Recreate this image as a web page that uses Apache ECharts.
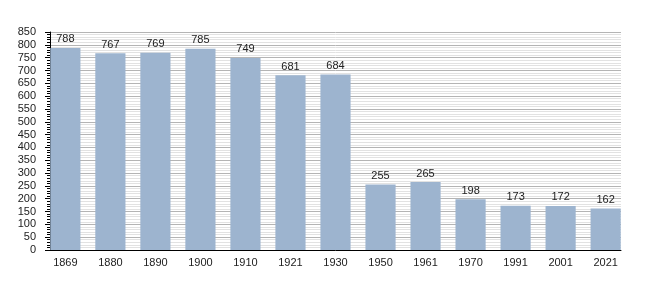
<!DOCTYPE html>
<html>
<head>
<meta charset="utf-8">
<script src="https://cdn.jsdelivr.net/npm/echarts@6/dist/echarts.min.js"></script>
<style>html,body{margin:0;padding:0;background:#fff}#c{width:650px;height:300px}</style>
</head>
<body>
<div id="c"></div>
<script>
const years = ['1869','1880','1890','1900','1910','1921','1930','1950','1961','1970','1991','2001','2021'];
const population = [788,767,769,785,749,681,684,255,265,198,173,172,162];
const yMin = 0, yMax = 850, yStep = 50;

const chart = echarts.init(document.getElementById('c'), null, {renderer:'canvas'});
const font = 'Liberation Sans, Arial, sans-serif';
chart.setOption({
  animation:false,
  grid:[
    {left:50, right:29, top:32, bottom:50},
    {left:42.85, right:21.85, top:32, bottom:50}
  ],
  xAxis:[
    {type:'value', gridIndex:0, min:0, max:1, show:true,
      axisLine:{show:true, onZero:false, lineStyle:{color:'#000', width:1}},
      axisTick:{show:false}, axisLabel:{show:false}, splitLine:{show:false}},
    {type:'category', gridIndex:1, data:years,
      axisLine:{show:false}, axisTick:{show:false},
      axisLabel:{color:'#222', fontSize:11, fontFamily:font, margin:7}}
  ],
  yAxis:[
    {type:'value', gridIndex:0, min:yMin, max:yMax, interval:yStep,
      axisLine:{show:true, lineStyle:{color:'#000'}},
      axisTick:{show:true, length:5, lineStyle:{color:'#000'}},
      minorTick:{show:true, splitNumber:5, length:3, lineStyle:{color:'#000'}},
      axisLabel:{color:'#222', fontSize:11, fontFamily:font, margin:14},
      splitLine:{show:true, lineStyle:{color:'#b4b4b4', width:1}},
      minorSplitLine:{show:true, lineStyle:{color:'#e2e2e2', width:1}}},
    {type:'value', gridIndex:1, min:yMin, max:yMax, show:false}
  ],
  series:[{
    type:'bar', xAxisIndex:1, yAxisIndex:1, data:population,
    barCategoryGap:'33%',
    itemStyle:{color:'#9db4cf'},
    label:{show:true, position:'top', distance:3, color:'#222', fontSize:11, fontFamily:font}
  }]
});
</script>
</body>
</html>
